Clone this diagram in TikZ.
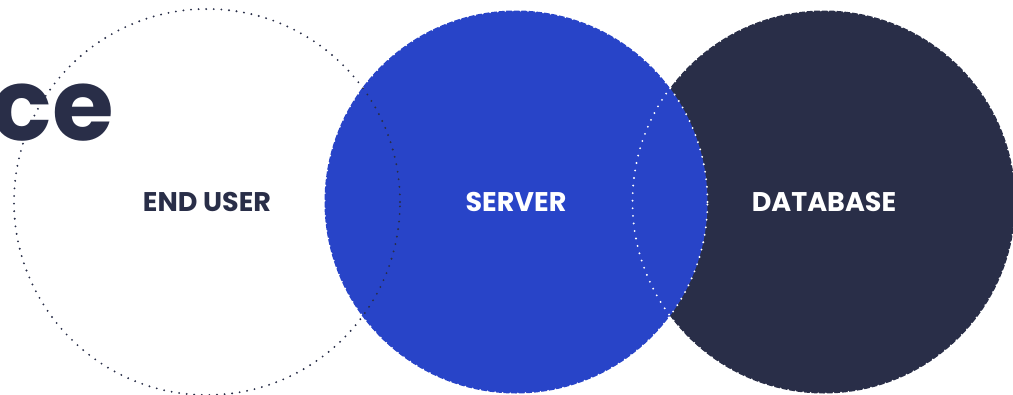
\documentclass[tikz,border=0pt]{standalone}
\usepackage{fontspec}
\setmainfont{Poppins}
\usetikzlibrary{positioning}
\definecolor{navy}{RGB}{41,46,72}
\definecolor{royal}{RGB}{40,68,200}

\begin{document}
\begin{tikzpicture}[x=1pt, y=-1pt, node distance=309pt,
    disc/.style={circle, minimum size=383pt, inner sep=0pt, font=\fontsize{27}{27}\selectfont\bfseries},
    ring/.style={disc, draw, line width=2.1pt, dash pattern=on 0pt off 7.6pt, line cap=round}]
    \path [use as bounding box, clip] (0,0) rectangle (1013,394);

    % Title rest
    \node [anchor=base east, text=navy, inner sep=0pt, font=\fontsize{100}{100}\selectfont\bfseries] (title) at (114,140) {ce};

    % Circles {user, server, database}
    \node [disc, minimum size=386pt]      (user)     at (207,202)         {};
    \node [disc, fill=navy, text=white]   (database) [right of=user, node distance=617pt] {DATABASE};
    \node [disc, fill=royal, text=white]  (server)   [right of=user]       {SERVER};

    % Outlines
    \node [ring, draw=white]              (dbring)   at (database)         {};
    \node [ring, draw=white]              (svring)   at (server)           {};
    \node [ring, minimum size=386pt, draw=navy, text=navy] (userring) at (user) {END USER};

\end{tikzpicture}
\end{document}
